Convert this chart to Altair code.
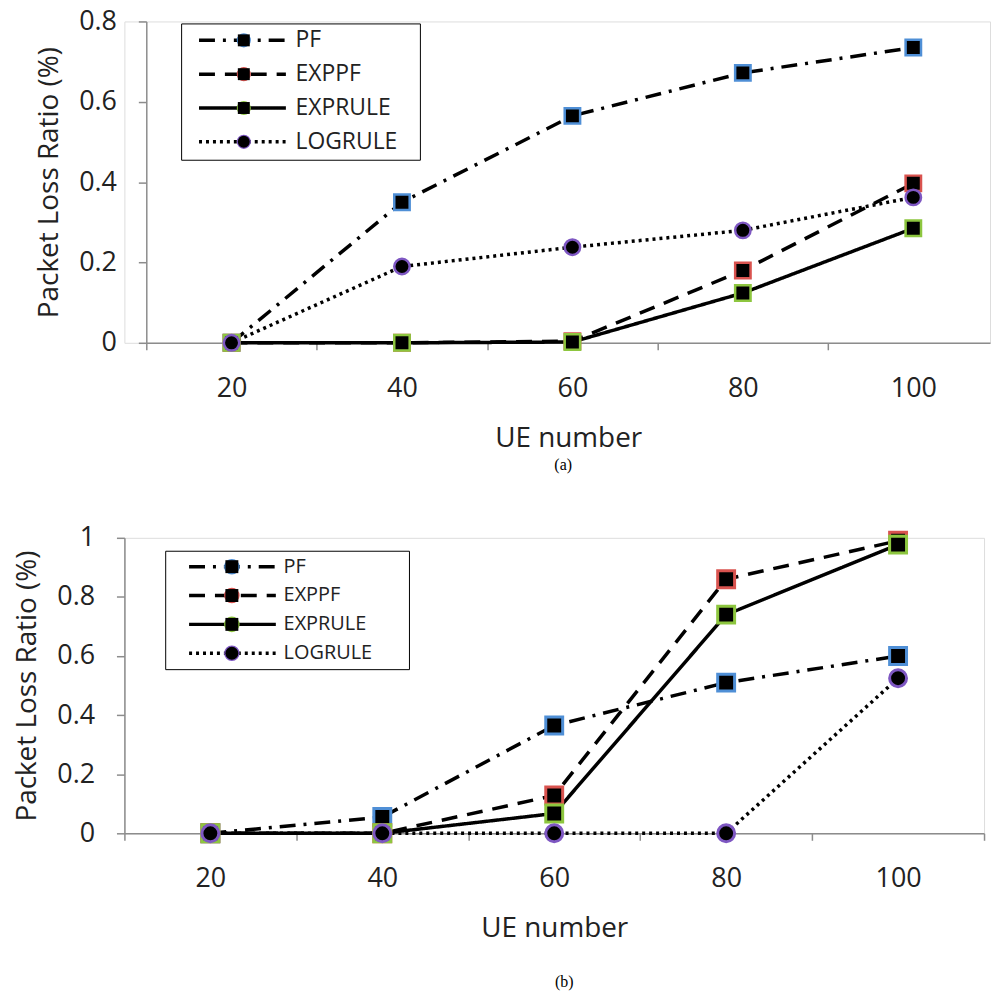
import altair as alt
import pandas as pd

UE = [20, 40, 60, 80, 100]
SERIES = ["PF", "EXPPF", "EXPRULE", "LOGRULE"]

# panel (a)
A_PF = [0.0, 0.35, 0.565, 0.672, 0.735]
A_EXPPF = [0.0, 0.0, 0.004, 0.18, 0.397]
A_EXPRULE = [0.0, 0.0, 0.002, 0.124, 0.285]
A_LOGRULE = [0.0, 0.19, 0.238, 0.28, 0.362]

# panel (b)
B_PF = [0.0, 0.055, 0.365, 0.51, 0.60]
B_EXPPF = [0.0, 0.0, 0.128, 0.86, 0.99]
B_EXPRULE = [0.0, 0.0, 0.067, 0.74, 0.977]
B_LOGRULE = [0.0, 0.0, 0.0, 0.0, 0.525]

X_TICKS = [10, 20, 30, 40, 50, 60, 70, 80, 90, 100, 110]
A_Y_TICKS = [0, 0.2, 0.4, 0.6, 0.8]
B_Y_TICKS = [0, 0.2, 0.4, 0.6, 0.8, 1.0]

DASHES = [[16, 8, 3, 8], [16, 10], [1, 0], [3, 4]]
SHAPES = ["square", "square", "square", "circle"]
STROKES = ["#4F8FD6", "#D9534F", "#8DC63F", "#7E57C2"]

FONT = "Open Sans"
AXIS_GRAY = "#8c8c8c"
TEXT = "#222222"
BLANK = "\u2800"  # blank glyph used to widen the legend box


def long_df(cols):
    rows = []
    for s, vals in zip(SERIES, cols):
        for u, v in zip(UE, vals):
            rows.append({"ue": u, "value": v, "series": s, "series_m": s})
    return pd.DataFrame(rows)


def panel(df, xdomain, xrange, ymax, yticks, width, height, yoffset,
          leg, msize, mstroke, caption, cap_dx, cap_offset, xlp, xtp):
    xscale = dict(domain=xdomain, nice=False, zero=False)
    if xrange is not None:
        xscale["range"] = xrange
    x = alt.X(
        "ue:Q",
        scale=alt.Scale(**xscale),
        axis=alt.Axis(
            values=X_TICKS,
            labelExpr="datum.value % 20 === 0 ? datum.label : ''",
            tickOpacity={"condition": {"test": "datum.value % 20 === 0", "value": 0}, "value": 1},
            labelOverlap=False, labelBound=False, labelFlush=False,
            tickSize=7, tickWidth=1.5, tickColor=AXIS_GRAY,
            domainColor=AXIS_GRAY, domainWidth=1.5,
            labelFont=FONT, labelFontSize=27, labelColor=TEXT, labelPadding=xlp,
            title="UE number", titleFont=FONT, titleFontSize=28, titleFontWeight="normal",
            titleColor=TEXT, titlePadding=xtp, grid=False,
        ),
    )
    y = alt.Y(
        "value:Q",
        scale=alt.Scale(domain=[0, ymax], nice=False, zero=True),
        axis=alt.Axis(
            values=yticks, format="~g", offset=yoffset,
            tickSize=8, tickWidth=1.5, tickColor=AXIS_GRAY,
            domainColor=AXIS_GRAY, domainWidth=1.5,
            labelFont=FONT, labelFontSize=27, labelColor=TEXT, labelPadding=22,
            title="Packet Loss Ratio (%)", titleFont=FONT, titleFontSize=28,
            titleFontWeight="normal", titleColor=TEXT, titlePadding=15, grid=False,
        ),
    )
    trail = BLANK * leg["trail"]
    l1 = alt.Legend(
        title=None, orient="none", legendX=leg["x"], legendY=leg["y"],
        padding=leg["pad"], rowPadding=leg["rowpad"],
        labelFont=FONT, labelFontSize=leg["font"], labelColor=TEXT, labelLimit=400,
        labelExpr=f"datum.label + '{trail}'",
        symbolType=leg["path"], symbolSize=leg["symsize"],
        symbolOffset=leg["symoff"], labelOffset=leg["laboff"],
        symbolStrokeWidth=3.5, symbolStrokeColor="black",
        strokeColor="black",
    )
    l2 = alt.Legend(
        title=None, orient="none", legendX=leg["x"], legendY=leg["y"],
        padding=leg["pad"], rowPadding=leg["rowpad2"],
        labelFont=FONT, labelFontSize=leg["font"], labelOpacity=0,
        symbolSize=leg["msize"], symbolOffset=leg["symoff2"], labelOffset=0,
        symbolStrokeWidth=leg["mstroke"], symbolFillColor="black",
    )
    lines = alt.Chart(df).mark_line(color="black", strokeWidth=3.5, strokeCap="butt").encode(
        x=x, y=y,
        strokeDash=alt.StrokeDash("series:N", sort=SERIES, scale=alt.Scale(range=DASHES), legend=l1),
    )
    pts = alt.Chart(df).mark_point(filled=False, fill="black", size=msize, strokeWidth=mstroke,
                                   opacity=1, fillOpacity=1).encode(
        x=x, y=y,
        shape=alt.Shape("series_m:N", sort=SERIES, scale=alt.Scale(range=SHAPES), legend=l2),
        color=alt.Color("series_m:N", sort=SERIES, scale=alt.Scale(range=STROKES), legend=l2),
    )
    return alt.layer(lines, pts).properties(
        width=width, height=height,
        title=alt.TitleParams(
            caption, orient="bottom", font="Liberation Serif", fontSize=16,
            fontWeight="normal", color="black", frame="group", anchor="middle",
            dx=cap_dx, offset=cap_offset,
        ),
    )


leg_a = dict(x=57, y=2, pad=5.5, rowpad=10, rowpad2=10, font=23, path="M-4.85,0H4.85",
             symsize=324, symoff=44.65, laboff=41.8, symoff2=46, msize=144, mstroke=2.2, trail=1)
leg_b = dict(x=41, y=13, pad=6, rowpad=9, rowpad2=5, font=20, path="M-5.45,0H5.45",
             symsize=256, symoff=51.6, laboff=41.4, symoff2=51, msize=169, mstroke=2.6, trail=2)

chart_a = panel(long_df([A_PF, A_EXPPF, A_EXPRULE, A_LOGRULE]), [10, 109], [22, 870],
                0.8, A_Y_TICKS, 870, 323, -22, leg_a, 240, 2.5, "(a)", 6, 5, 26, 23)
chart_b = panel(long_df([B_PF, B_EXPPF, B_EXPRULE, B_LOGRULE]), [10, 110], None,
                1.0, B_Y_TICKS, 864, 297, 0, leg_b, 289, 3, "(b)", 10, 31, 25, 24)

chart = alt.vconcat(chart_a, chart_b, spacing=196, bounds="flush").resolve_scale(
    strokeDash="independent", shape="independent", color="independent"
).properties(
    padding={"left": 5, "top": -4, "right": 0, "bottom": 2}
).configure_view(stroke=None).configure_legend(strokeWidth=2.5).configure(background="white")

chart.save("out.html", embed_options={"renderer": "svg", "actions": False})
